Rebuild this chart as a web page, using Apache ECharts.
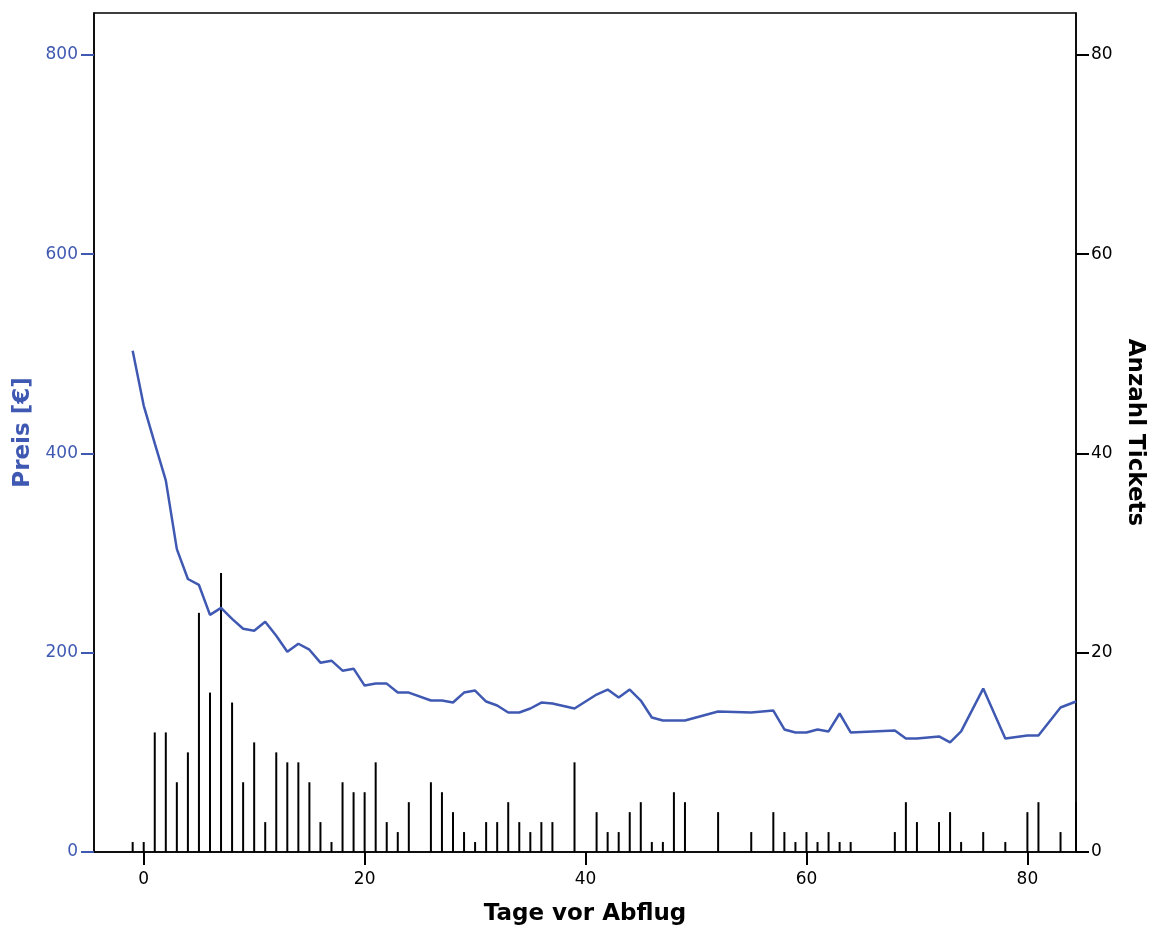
<!DOCTYPE html>
<html>
<head>
<meta charset="utf-8">
<script src="https://cdn.jsdelivr.net/npm/echarts@6/dist/echarts.min.js"></script>
<style>
  html, body { margin: 0; padding: 0; background: #fff; }
  #chart { width: 1152px; height: 931px; }
</style>
</head>
<body>
<div id="chart"></div>
<script>
// Days before departure that had ticket sales
const days = [-1, 0, 1, 2, 3, 4, 5, 6, 7, 8, 9, 10, 11, 12, 13, 14, 15, 16, 17, 18, 19, 20,
  21, 22, 23, 24, 26, 27, 28, 29, 30, 31, 32, 33, 34, 35, 36, 37, 39, 41, 42, 43, 44, 45,
  46, 47, 48, 49, 52, 55, 57, 58, 59, 60, 61, 62, 63, 64, 68, 69, 70, 72, 73, 74, 76, 78,
  80, 81, 83, 84.4];
// Number of tickets sold on each of those days
const tickets = [1, 1, 12, 12, 7, 10, 24, 16, 28, 15, 7, 11, 3, 10, 9, 9, 7, 3, 1, 7, 6, 6,
  9, 3, 2, 5, 7, 6, 4, 2, 1, 3, 3, 5, 3, 2, 3, 3, 9, 4, 2, 2, 4, 5,
  1, 1, 6, 5, 4, 2, 4, 2, 1, 2, 1, 2, 1, 1, 2, 5, 3, 3, 4, 1, 2, 1,
  4, 5, 2, 5];
// Average price in euros on each of those days
const prices = [503, 448, 410, 373, 304, 274, 268, 238, 245, 234, 224, 222, 231, 217, 201, 209, 203, 190, 192, 182, 184, 167,
  169, 169, 160, 160, 152, 152, 150, 160, 162, 151, 147, 140, 140, 144, 150, 149, 144, 158, 163, 155, 163, 152,
  135, 132, 132, 132, 141, 140, 142, 123, 120, 120, 123, 121, 139, 120, 122, 114, 114, 116, 110, 121, 164, 114,
  117, 117, 145, 151];

const xTicks = [0, 20, 40, 60, 80];
const priceTicks = [0, 200, 400, 600, 800];
const ticketTicks = [0, 20, 40, 60, 80];

const blue = '#3f59b2';
const font = 'DejaVu Sans';

const chart = echarts.init(document.getElementById('chart'), null, { renderer: 'canvas' });
chart.setOption({
  animation: false,
  backgroundColor: '#ffffff',
  textStyle: { fontFamily: font },
  grid: {
    left: 94, right: 76, top: 13, bottom: 79,
    outerBoundsMode: 'none', containLabel: false,
    show: true, borderColor: '#000', borderWidth: 1.5, backgroundColor: 'transparent'
  },
  xAxis: {
    type: 'value', min: -4.5, max: 84.4,
    name: 'Tage vor Abflug', nameLocation: 'middle', nameGap: 51,
    nameTextStyle: { fontFamily: font, fontSize: 23, fontWeight: 'bold', color: '#000' },
    axisLine: { show: true, onZero: false, lineStyle: { color: '#000', width: 1.5 } },
    axisTick: { show: true, length: 13, lineStyle: { color: '#000', width: 2 }, customValues: xTicks },
    axisLabel: { color: '#000', fontSize: 17, fontFamily: font, margin: 19, customValues: xTicks },
    splitLine: { show: false }
  },
  yAxis: [
    {
      type: 'value', min: 0, max: 842, position: 'left',
      name: 'Preis [€]', nameLocation: 'middle', nameGap: 58,
      nameTextStyle: { fontFamily: font, fontSize: 23, fontWeight: 'bold', color: blue },
      axisLine: { show: true, onZero: false, lineStyle: { color: '#000', width: 1.5 } },
      axisTick: { show: true, length: 13, lineStyle: { color: blue, width: 2 }, customValues: priceTicks },
      axisLabel: { color: blue, fontSize: 17, fontFamily: font, margin: 16, customValues: priceTicks },
      splitLine: { show: false }
    },
    {
      type: 'value', min: 0, max: 84.2, position: 'right',
      name: 'Anzahl Tickets', nameLocation: 'middle', nameGap: 43, nameRotate: -90,
      nameTextStyle: { fontFamily: font, fontSize: 23, fontWeight: 'bold', color: '#000' },
      axisLine: { show: true, onZero: false, lineStyle: { color: '#000', width: 1.5 } },
      axisTick: { show: true, length: 13, lineStyle: { color: '#000', width: 2 }, customValues: ticketTicks },
      axisLabel: { color: '#000', fontSize: 17, fontFamily: font, margin: 15, customValues: ticketTicks },
      splitLine: { show: false }
    }
  ],
  series: [
    {
      name: 'Anzahl Tickets', type: 'bar', yAxisIndex: 1, barWidth: 2,
      itemStyle: { color: '#000' },
      data: days.map((d, i) => [d, tickets[i]])
    },
    {
      name: 'Preis', type: 'line', yAxisIndex: 0, showSymbol: false, symbol: 'none',
      lineStyle: { color: blue, width: 2.5 },
      data: days.map((d, i) => [d, prices[i]])
    }
  ]
});
</script>
</body>
</html>
